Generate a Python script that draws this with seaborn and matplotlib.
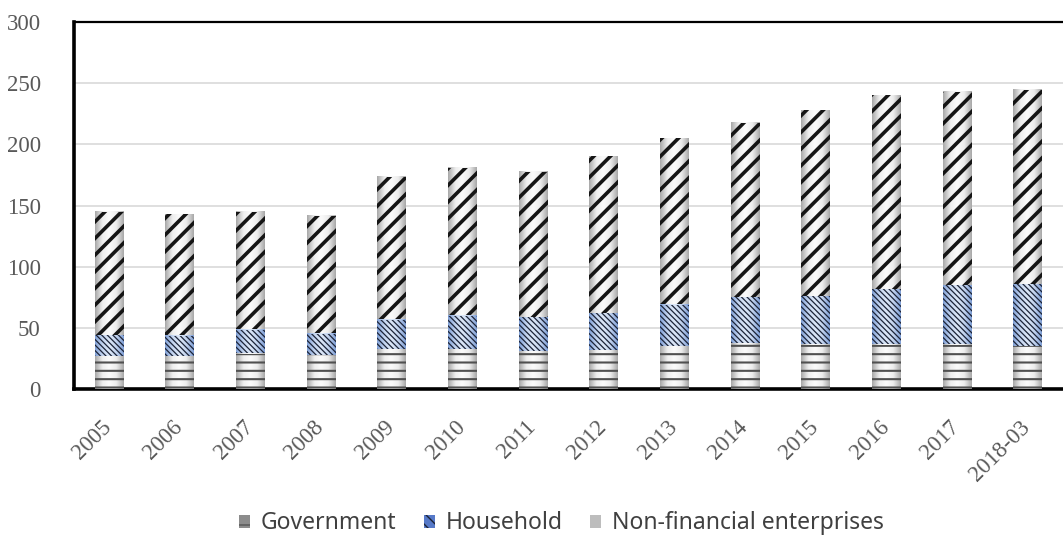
import numpy as np
import pandas as pd
import matplotlib.pyplot as plt
import matplotlib.patches as mpatches
import matplotlib.transforms as mtransforms
from matplotlib.colors import LinearSegmentedColormap
import seaborn as sns

# values
years = ['2005', '2006', '2007', '2008', '2009', '2010', '2011', '2012',
         '2013', '2014', '2015', '2016', '2017', '2018-03']
government = [26.5, 26.5, 28.7, 27.6, 32.0, 32.0, 30.6, 31.5, 34.7, 37.0, 36.0, 36.0, 36.0, 35.0]
household = [17.5, 17.2, 19.7, 17.4, 24.5, 28.0, 28.2, 30.5, 34.1, 37.9, 39.7, 45.7, 49.0, 50.5]
nonfin = [101.0, 99.3, 96.6, 96.8, 117.0, 121.0, 118.8, 128.4, 136.2, 142.9, 152.3, 158.3, 158.0, 159.0]
y_ticks = [0, 50, 100, 150, 200, 250, 300]

df = pd.DataFrame({"year": years, "gov": government, "hh": household, "nf": nonfin})
df["gov_hh"] = df["gov"] + df["hh"]
df["total"] = df["gov_hh"] + df["nf"]

sns.set_style("white")
fig = plt.figure(figsize=(10.63, 5.37), dpi=100)
ax = fig.add_axes([0.0696, 0.2756, 0.9304, 0.6834])
ax.yaxis.grid(True, color="#d9d9d9", linewidth=1.2, zorder=0)
ax.set_axisbelow(True)

grey_cmap = LinearSegmentedColormap.from_list("g", ["#a8a8a8", "#eeeeee", "#fbfbfb", "#ececec", "#a8a8a8"])
blue_cmap = LinearSegmentedColormap.from_list("b", ["#7f9fd6", "#c4d5f0", "#dde8f8", "#c2d3ef", "#7f9fd6"])
grad = np.linspace(0, 1, 64).reshape(1, -1)

# (column, hatch, hatch colour, hatch width, face cmap), drawn back to front
layers = [
    ("total", "//", "#151515", 2.6, grey_cmap),
    ("gov_hh", "\\\\\\\\\\\\", "#1c2438", 0.9, blue_cmap),
    ("gov", "--", "#505050", 1.5, grey_cmap),
]

for k, (col, hatch, hcol, hlw, cmap) in enumerate(layers):
    n0 = len(ax.patches)
    with plt.rc_context({"hatch.linewidth": hlw, "hatch.color": hcol}):
        sns.barplot(data=df, x="year", y=col, color="#cccccc", width=0.41,
                    saturation=1, ax=ax)
        for p in ax.patches[n0:]:
            p.set_facecolor("none")
            p.set_edgecolor(hcol)
            p.set_linewidth(0)
            p.set_hatch(hatch)
            if hasattr(p, "set_hatch_linewidth"):
                p.set_hatch_linewidth(hlw)
            p.set_zorder(2.5 + k)
            x, y, w, h = p.get_x(), p.get_y(), p.get_width(), p.get_height()
            ax.imshow(grad, cmap=cmap, extent=[x, x + w, y, y + h],
                      aspect="auto", zorder=2 + k, interpolation="bicubic")

ax.set_xlim(-0.5, 13.35)
ax.set_ylim(0, 300)
ax.set_yticks(y_ticks)
ax.set_xlabel("")
ax.set_ylabel("")

serif = "Liberation Serif"
ax.set_yticklabels([str(v) for v in y_ticks], fontfamily=serif, fontsize=16.5, color="#595959")
ax.tick_params(axis="y", direction="in", length=6, width=2.2, color="black", pad=24)
ax.set_xticks(range(len(years)))
ax.set_xticklabels(years, rotation=45, ha="right", rotation_mode="anchor",
                   fontfamily=serif, fontsize=16.5, color="#595959")
ax.tick_params(axis="x", which="major", length=0, pad=20)
shift = mtransforms.ScaledTranslation(-8 / 100, 0, fig.dpi_scale_trans)
for lab in ax.get_xticklabels():
    lab.set_transform(lab.get_transform() + shift)
ax.set_xticks(np.arange(len(years)) + 0.5, minor=True)
ax.tick_params(axis="x", which="minor", direction="in", length=6, width=2.2, color="black")

for side in ["left", "bottom"]:
    ax.spines[side].set_color("black")
    ax.spines[side].set_linewidth(2.6)
ax.spines["top"].set_color("black")
ax.spines["top"].set_linewidth(1.6)
ax.spines["right"].set_visible(False)

handles = [
    mpatches.Patch(facecolor="#8c8c8c", edgecolor="#555555", hatch="-", linewidth=0),
    mpatches.Patch(facecolor="#5679c8", edgecolor="#1c2438", hatch="\\\\\\", linewidth=0),
    mpatches.Patch(facecolor="#bdbdbd", edgecolor="#888888", linewidth=0),
]
fig.legend(handles, ["Government", "Household", "Non-financial enterprises"],
           loc="lower center", bbox_to_anchor=(0.528, -0.035), ncol=3, frameon=False,
           prop={"family": "Noto Sans", "size": 16.5}, labelcolor="#404040",
           handlelength=0.5, handleheight=0.5, handletextpad=0.45, columnspacing=1.2)

fig.savefig("out.png", dpi=100)
